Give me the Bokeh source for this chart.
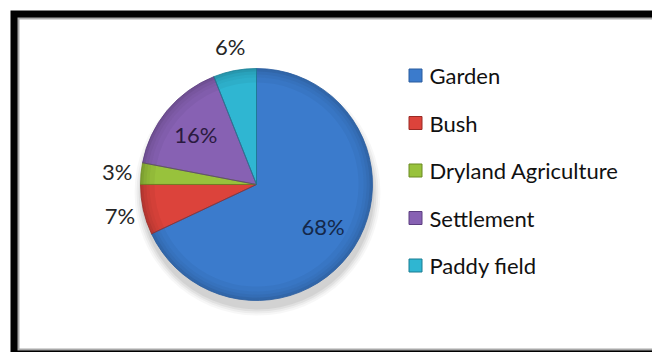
import math
from bokeh.plotting import figure
from bokeh.models import Range1d, ColumnDataSource
from bokeh.core.properties import value
from bokeh.embed import file_html
from bokeh.resources import INLINE

# ---- data ----
categories = ["Garden", "Bush", "Dryland Agriculture", "Settlement", "Paddy field"]
percents = [68, 7, 3, 16, 6]
labels = ["68%", "7%", "3%", "16%", "6%"]
colors = ["#3b7bcc", "#dc433b", "#98c23c", "#8761b3", "#2fb6d2"]
edge_colors = ["#2a5c9e", "#9a2a25", "#6a8a22", "#5c3f80", "#1a7d92"]
label_inside = [True, False, False, True, False]
label_colors = ["#14284a", "#262626", "#262626", "#2a1a40", "#262626"]

W, H = 652, 352
FONT = "Lato"

p = figure(width=W, height=H, output_backend="svg", toolbar_location=None,
           x_range=Range1d(0, W), y_range=Range1d(0, H), min_border=0)
p.axis.visible = False
p.grid.visible = False
p.outline_line_color = None
p.background_fill_color = "white"
p.border_fill_color = "white"

def Y(py):
    return H - py

# ---- frame ----
p.quad(left=[10], right=[W + 10], top=[Y(10)], bottom=[Y(H + 5)], fill_color="black", line_color=None)
p.quad(left=[17], right=[W + 10], top=[Y(17)], bottom=[Y(350)], fill_color="#a8a8a8", line_color=None)
p.quad(left=[19], right=[W + 10], top=[Y(19)], bottom=[Y(348)], fill_color="white", line_color=None)

# ---- pie geometry ----
cx, cy = 256, Y(184)
R = 116

total = sum(percents)
starts, ends, mids = [], [], []
acc = 0.0
for v in percents:
    a0 = math.pi / 2 - 2 * math.pi * acc / total
    acc += v
    a1 = math.pi / 2 - 2 * math.pi * acc / total
    starts.append(a0)
    ends.append(a1)
    mids.append((a0 + a1) / 2)

# soft shadow below the pie
for dr, al in [(7, 0.03), (5, 0.04), (3, 0.05), (1, 0.06)]:
    p.circle(x=[cx + 1], y=[cy - 8], radius=R + dr, fill_color="black", fill_alpha=al, line_color=None)

src = ColumnDataSource(dict(start=starts, end=ends, color=colors, edge=edge_colors))
p.wedge(x=cx, y=cy, radius=R, start_angle="start", end_angle="end", direction="clock",
        fill_color="color", line_color=None, source=src)

# bevel: gradually darker outer rim
for r0, r1, al in [(102, 107, 0.04), (107, 110, 0.07), (110, 113, 0.11), (113, R, 0.17)]:
    p.annular_wedge(x=cx, y=cy, inner_radius=r0, outer_radius=r1, start_angle="start",
                    end_angle="end", direction="clock", fill_color="black", fill_alpha=al,
                    line_color=None, source=src)
# slice borders
p.wedge(x=cx, y=cy, radius=R, start_angle="start", end_angle="end", direction="clock",
        fill_color=None, line_color="edge", line_width=1, line_alpha=0.8, source=src)

# ---- data labels ----
lx, ly = [], []
for m, inside in zip(mids, label_inside):
    r = 0.68 * R if inside else R + 24
    lx.append(cx + r * math.cos(m))
    ly.append(cy + r * math.sin(m))
p.text(x=lx, y=ly, text=labels, text_align="center", text_baseline="middle",
       text_font=value(FONT), text_font_size="22px", text_color=label_colors)

# ---- legend ----
leg_x, leg_y0, leg_step = 415, 75, 47.5
leg_y = [Y(leg_y0 + i * leg_step) for i in range(len(categories))]
p.scatter(x=[leg_x] * len(categories), y=leg_y, marker="square", size=13,
          fill_color=colors, line_color=edge_colors, line_width=1)
p.text(x=[leg_x + 14] * len(categories), y=leg_y, text=categories, text_align="left",
       text_baseline="middle", text_font=value(FONT), text_font_size="22px", text_color="#111111")

open("out.html", "w").write(file_html(p, INLINE))
